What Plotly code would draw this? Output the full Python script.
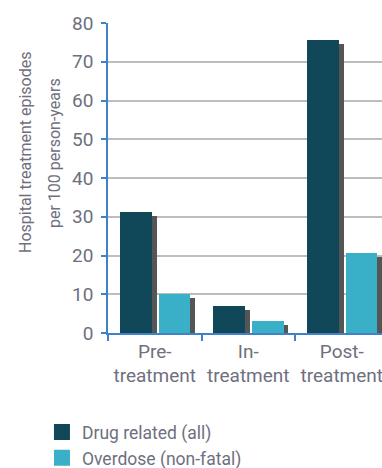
import plotly.graph_objects as go

categories = ["Pre-<br>treatment", "In-<br>treatment", "Post-<br>treatment"]
series_names = ["Drug related (all)", "Overdose (non-fatal)"]
drug_related = [31.2, 7.0, 75.6]
overdose = [10.1, 3.1, 20.6]
y_ticks = [0, 10, 20, 30, 40, 50, 60, 70, 80]
y_title_lines = ["Hospital treatment episodes", "per 100 person-years"]

FONT = "Roboto, sans-serif"
TXT = "#6e707e"
AXIS_BLUE = "#3f82c8"
DARK = "#10485a"
LIGHT = "#3aafc8"
SHADOW = "#555555"

xs = list(range(len(categories)))
shadow_dx = 0.053
shadow_dy = 1.03

fig = go.Figure()
# shadows (behind)
fig.add_trace(go.Bar(x=xs, y=[v - shadow_dy for v in drug_related], offset=-0.372 + shadow_dx,
                     width=0.342, marker=dict(color=SHADOW, line_width=0), showlegend=False,
                     hoverinfo="skip"))
fig.add_trace(go.Bar(x=xs, y=[v - shadow_dy for v in overdose], offset=0.045 + shadow_dx,
                     width=0.332, marker=dict(color=SHADOW, line_width=0), showlegend=False,
                     hoverinfo="skip"))
# main bars
fig.add_trace(go.Bar(x=xs, y=drug_related, offset=-0.372, width=0.342, name=series_names[0],
                     marker=dict(color=DARK, line_width=0), showlegend=False))
fig.add_trace(go.Bar(x=xs, y=overdose, offset=0.045, width=0.332, name=series_names[1],
                     marker=dict(color=LIGHT, line_width=0), showlegend=False))
# legend entries (square swatches)
for name, col in zip(series_names, [DARK, LIGHT]):
    fig.add_trace(go.Scatter(x=[None], y=[None], mode="markers", name=name,
                             marker=dict(symbol="square", size=16, color=col, line_width=0)))

# invisible trace to activate xaxis2 (category separators)
fig.add_trace(go.Scatter(x=[0], y=[0], xaxis="x2", mode="markers", marker=dict(opacity=0),
                         showlegend=False, hoverinfo="skip"))

xrange = [-0.5, 2.43]
fig.update_layout(
    width=382, height=468,
    margin=dict(l=108, r=0, t=23, b=135, autoexpand=False),
    barmode="overlay",
    plot_bgcolor="white", paper_bgcolor="white",
    font=dict(family=FONT, size=18, color=TXT),
    xaxis=dict(range=xrange, tickvals=xs, ticktext=categories, ticks="",
               showline=True, linecolor=AXIS_BLUE, linewidth=1.5, showgrid=False,
               tickfont=dict(size=19, color=TXT), zeroline=False,
               ticklabeloverflow="allow", automargin=False),
    xaxis2=dict(range=xrange, overlaying="x", anchor="y", side="bottom",
                tickvals=[-0.5, 0.5, 1.5], ticks="outside", ticklen=7, tickwidth=1.5,
                tickcolor=AXIS_BLUE, showticklabels=False, showgrid=False, showline=False,
                zeroline=False),
    yaxis=dict(range=[0, 80], tickvals=y_ticks, ticks="outside", ticklen=5, tickwidth=1.5,
               tickcolor=AXIS_BLUE, showline=True, linecolor=AXIS_BLUE, linewidth=1.5,
               gridcolor="#bdbdbd", gridwidth=1.5, zeroline=False, ticklabelstandoff=4,
               tickfont=dict(size=19, color=TXT), automargin=False),
    legend=dict(x=-0.241, y=-0.262, xanchor="left", yanchor="top", orientation="v",
                font=dict(size=17.5, color=TXT), bgcolor="rgba(0,0,0,0)",
                tracegroupgap=0, itemwidth=30),
    bargap=0,
)
# y-axis title, two lines
for line, xpx in zip(y_title_lines, [25, 54]):
    fig.add_annotation(text=line, textangle=-90, xref="paper", yref="paper",
                       x=(xpx - 108) / 274, y=(333 - 153) / 310, xanchor="center", yanchor="middle",
                       showarrow=False, font=dict(size=16, color=TXT))

fig.write_html("out.html")
